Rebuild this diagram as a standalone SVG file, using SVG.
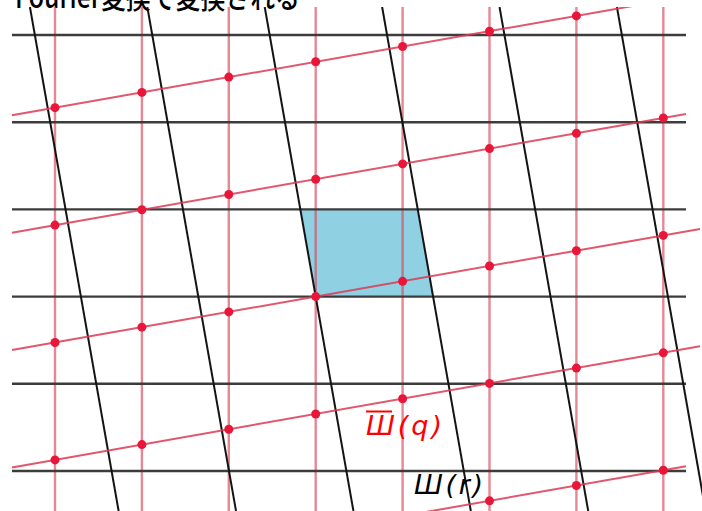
<svg xmlns="http://www.w3.org/2000/svg" width="702" height="511" viewBox="0 0 702 511">
  <defs>
    <clipPath id="area"><rect x="0" y="7" width="702" height="504"/></clipPath>
    <style>
      .hline { stroke: #3c3c3c; stroke-width: 2.4; fill: none; }
      .sline { stroke: #141414; stroke-width: 2; fill: none; }
      .vred { stroke: #d9475c; stroke-width: 2.4; stroke-opacity: 0.65; fill: none; }
      .sred { stroke: #dc3a55; stroke-width: 2; stroke-opacity: 0.85; fill: none; }
      .dot { fill: #e8173a; }
      .lbl { font-family: "DejaVu Sans", sans-serif; font-style: italic; font-size: 27px; }
    </style>
  </defs>
  <rect width="702" height="511" fill="#ffffff"/>
  <text x="15" y="8" font-family="Noto Sans CJK JP, sans-serif" font-size="30" font-weight="500" fill="#000" textLength="285" lengthAdjust="spacingAndGlyphs">Fourier変換で変換される</text>
  <g id="cell">
    <polygon points="300.35,209.4 417.75,209.4 433.1,296.6 315.7,296.6" fill="#8fd0e2"/>
  </g>
  <g id="connectors" clip-path="url(#area)">
    <g id="red-verticals">
      <line class="vred" x1="55" y1="7" x2="55" y2="511"/>
      <line class="vred" x1="141.9" y1="7" x2="141.9" y2="511"/>
      <line class="vred" x1="228.8" y1="7" x2="228.8" y2="511"/>
      <line class="vred" x1="315.7" y1="7" x2="315.7" y2="511"/>
      <line class="vred" x1="402.6" y1="7" x2="402.6" y2="511"/>
      <line class="vred" x1="489.5" y1="7" x2="489.5" y2="511"/>
      <line class="vred" x1="576.4" y1="7" x2="576.4" y2="511"/>
      <line class="vred" x1="663.3" y1="7" x2="663.3" y2="511"/>
    </g>
    <g id="black-horizontals">
      <line class="hline" x1="12" y1="35" x2="686" y2="35"/>
      <line class="hline" x1="12" y1="122.2" x2="686" y2="122.2"/>
      <line class="hline" x1="12" y1="209.4" x2="686" y2="209.4"/>
      <line class="hline" x1="12" y1="296.6" x2="686" y2="296.6"/>
      <line class="hline" x1="12" y1="383.8" x2="686" y2="383.8"/>
      <line class="hline" x1="12" y1="471" x2="686" y2="471"/>
    </g>
    <g id="black-slanted">
      <line class="sline" x1="29.93" y1="7" x2="118.63" y2="511"/>
      <line class="sline" x1="147.33" y1="7" x2="236.03" y2="511"/>
      <line class="sline" x1="264.73" y1="7" x2="353.43" y2="511"/>
      <line class="sline" x1="382.13" y1="7" x2="470.83" y2="511"/>
      <line class="sline" x1="499.53" y1="7" x2="588.23" y2="511"/>
      <line class="sline" x1="616.93" y1="7" x2="705.63" y2="511"/>
    </g>
    <g id="red-slanted">
      <line class="sred" x1="12" y1="115.25" x2="686" y2="-3.4"/>
      <line class="sred" x1="12" y1="232.65" x2="686" y2="114"/>
      <line class="sred" x1="12" y1="350.05" x2="700" y2="228.9"/>
      <line class="sred" x1="12" y1="467.45" x2="700" y2="346.3"/>
      <line class="sred" x1="12" y1="584.85" x2="686" y2="466.2"/>
    </g>
  </g>
  <g id="dots">
    <circle class="dot" cx="55" cy="107.68" r="4.5"/>
    <circle class="dot" cx="55" cy="225.08" r="4.5"/>
    <circle class="dot" cx="55" cy="342.48" r="4.5"/>
    <circle class="dot" cx="55" cy="459.88" r="4.5"/>
    <circle class="dot" cx="141.9" cy="92.39" r="4.5"/>
    <circle class="dot" cx="141.9" cy="209.79" r="4.5"/>
    <circle class="dot" cx="141.9" cy="327.19" r="4.5"/>
    <circle class="dot" cx="141.9" cy="444.59" r="4.5"/>
    <circle class="dot" cx="228.8" cy="77.09" r="4.5"/>
    <circle class="dot" cx="228.8" cy="194.49" r="4.5"/>
    <circle class="dot" cx="228.8" cy="311.89" r="4.5"/>
    <circle class="dot" cx="228.8" cy="429.29" r="4.5"/>
    <circle class="dot" cx="315.7" cy="61.8" r="4.5"/>
    <circle class="dot" cx="315.7" cy="179.2" r="4.5"/>
    <circle class="dot" cx="315.7" cy="296.6" r="4.5"/>
    <circle class="dot" cx="315.7" cy="414" r="4.5"/>
    <circle class="dot" cx="402.6" cy="46.51" r="4.5"/>
    <circle class="dot" cx="402.6" cy="163.91" r="4.5"/>
    <circle class="dot" cx="402.6" cy="281.31" r="4.5"/>
    <circle class="dot" cx="402.6" cy="398.71" r="4.5"/>
    <circle class="dot" cx="489.5" cy="31.21" r="4.5"/>
    <circle class="dot" cx="489.5" cy="148.61" r="4.5"/>
    <circle class="dot" cx="489.5" cy="266.01" r="4.5"/>
    <circle class="dot" cx="489.5" cy="383.41" r="4.5"/>
    <circle class="dot" cx="489.5" cy="500.81" r="4.5"/>
    <circle class="dot" cx="576.4" cy="15.92" r="4.5"/>
    <circle class="dot" cx="576.4" cy="133.32" r="4.5"/>
    <circle class="dot" cx="576.4" cy="250.72" r="4.5"/>
    <circle class="dot" cx="576.4" cy="368.12" r="4.5"/>
    <circle class="dot" cx="576.4" cy="485.52" r="4.5"/>
    <circle class="dot" cx="663.3" cy="118.02" r="4.5"/>
    <circle class="dot" cx="663.3" cy="235.42" r="4.5"/>
    <circle class="dot" cx="663.3" cy="352.82" r="4.5"/>
    <circle class="dot" cx="663.3" cy="470.22" r="4.5"/>
  </g>
  <g id="label-q">
    <text class="lbl" x="366" y="435" fill="#ff0000" textLength="76" lengthAdjust="spacing">Ш(q)</text>
    <line x1="366" y1="411.5" x2="392" y2="411.5" stroke="#ff0000" stroke-width="2"/>
  </g>
  <g id="label-r">
    <text class="lbl" x="414" y="494" fill="#000000" textLength="69" lengthAdjust="spacing">Ш(r)</text>
  </g>
</svg>
